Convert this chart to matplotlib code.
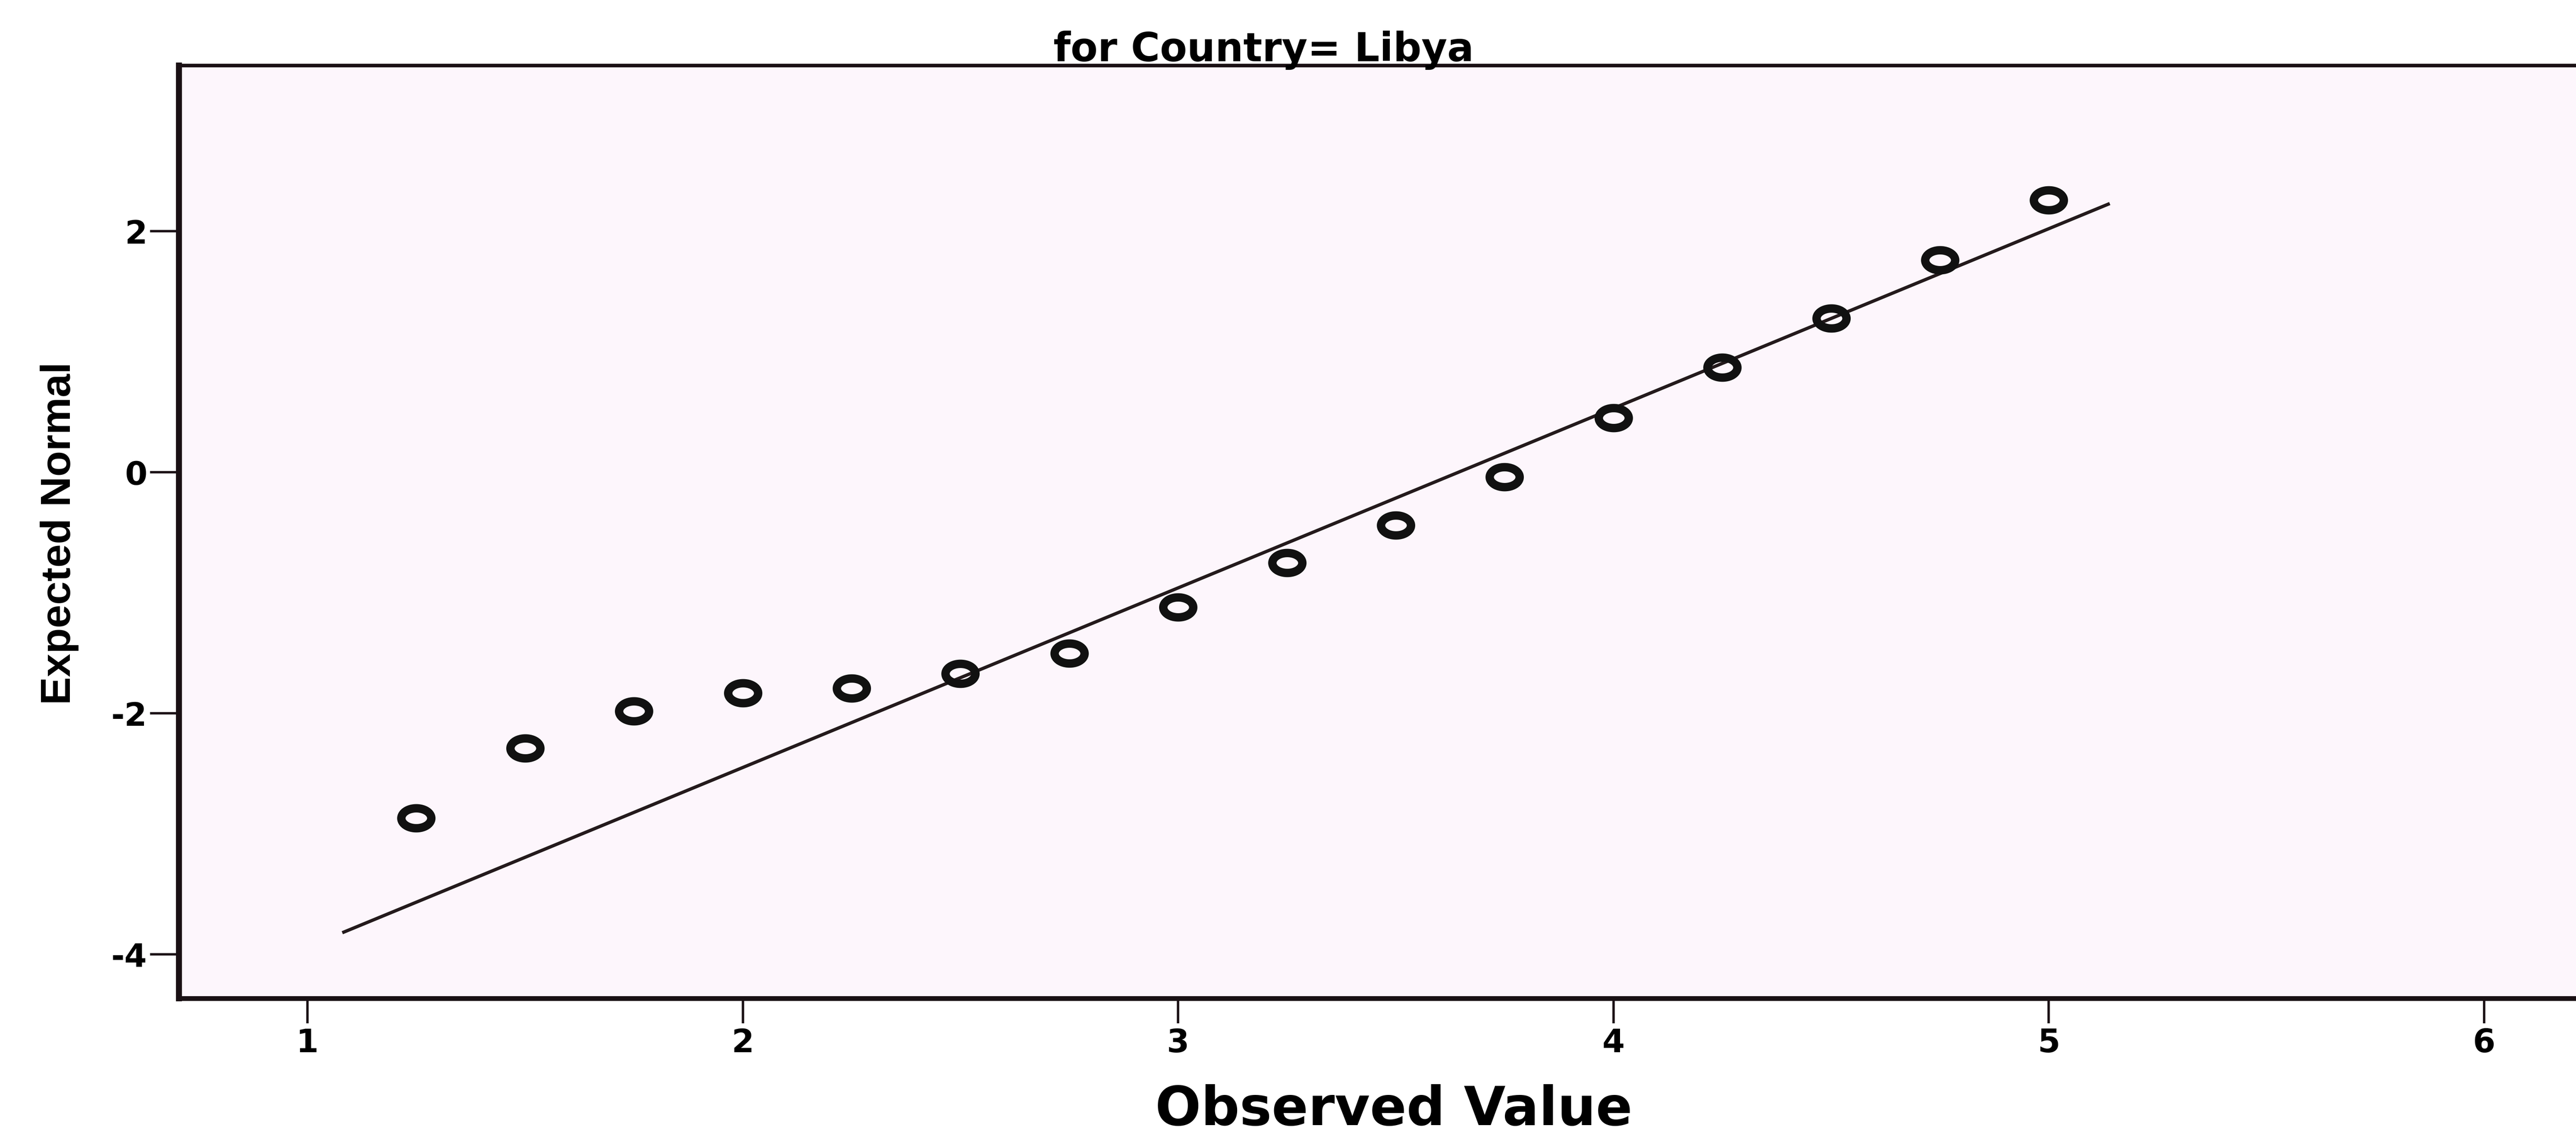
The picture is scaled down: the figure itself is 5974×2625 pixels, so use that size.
import numpy as np
import matplotlib.pyplot as plt
from matplotlib.path import Path
from matplotlib import font_manager

plt.rcParams['axes.unicode_minus'] = False

# Normal Q-Q plot values
observed = [1.25, 1.50, 1.75, 2.00, 2.25, 2.50, 2.75, 3.00,
            3.25, 3.50, 3.75, 4.00, 4.25, 4.50, 4.75, 5.00]
expected = [-2.87, -2.29, -1.98, -1.83, -1.79, -1.67, -1.50, -1.12,
            -0.75, -0.44, -0.04, 0.45, 0.87, 1.28, 1.76, 2.26]

# reference line (ends as drawn)
line_x = [1.08, 5.14]
line_y = [-3.82, 2.23]

x_ticks = [1, 2, 3, 4, 5, 6]
y_ticks = [-4, -2, 0, 2]

title = "for Country= Libya"
xlabel = "Observed Value"
ylabel = "Expected Normal"

# the scan is stretched sideways, so the circles look like ellipses
t = np.linspace(0, 2 * np.pi, 120)
ellipse = Path(np.column_stack([1.5 * np.cos(t), np.sin(t)]), closed=True)

names = {f.name for f in font_manager.fontManager.ttflist}
if 'Liberation Sans Narrow' in names:
    ylab_family, ylab_size = 'Liberation Sans Narrow', 84
else:
    ylab_family, ylab_size = 'Liberation Sans', 70

fig = plt.figure(figsize=(59.74, 26.25), dpi=100)
ax = fig.add_axes([0.0695, 0.118, 0.9305, 0.824])
ax.set_facecolor('#fdf6fc')

ax.plot(line_x, line_y, color='#241a1c', lw=5.5, solid_capstyle='butt')
ax.plot(observed, expected, ls='none', marker=ellipse, ms=50,
        mfc='none', mec='#111111', mew=14)

ax.set_xlim(0.705, 6.211)
ax.set_ylim(-4.365, 3.374)
ax.set_xticks(x_ticks)
ax.set_yticks(y_ticks)

ax.spines['right'].set_visible(False)
ax.spines['left'].set_linewidth(10)
ax.spines['bottom'].set_linewidth(8)
ax.spines['top'].set_linewidth(6)
for s in ax.spines.values():
    s.set_color('#1a1014')

ax.tick_params(axis='x', length=42, width=4, pad=7, labelsize=54, color='#1a1014')
ax.tick_params(axis='y', length=48, width=4, pad=5, labelsize=54, color='#1a1014')
for lbl in ax.get_xticklabels() + ax.get_yticklabels():
    lbl.set_fontweight('bold')
    lbl.set_family('DejaVu Sans')

fig.text(0.4905, 0.946, title, ha='center', va='baseline',
         fontsize=66, fontweight='bold', family='DejaVu Sans')
fig.text(0.541, 0.006, xlabel, ha='center', va='baseline',
         fontsize=90, fontweight='bold', family='DejaVu Sans')
fig.text(0.0273, 0.529, ylabel, ha='center', va='baseline',
         rotation=90, rotation_mode='anchor',
         fontsize=ylab_size, fontweight='bold', family=ylab_family)

fig.savefig('out.png', dpi=100, facecolor='white')
